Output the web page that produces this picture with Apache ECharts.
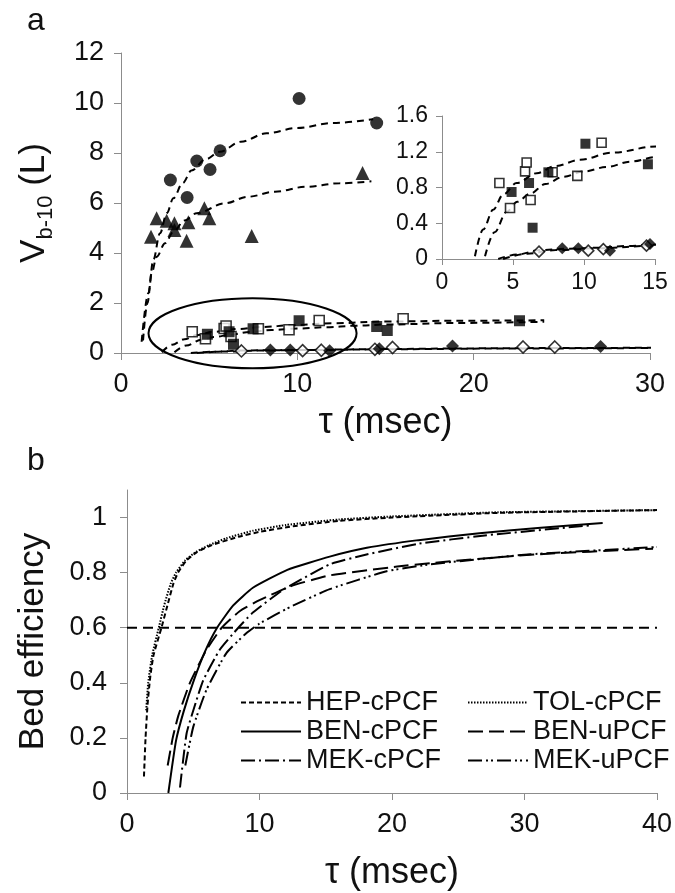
<!DOCTYPE html>
<html>
<head>
<meta charset="utf-8">
<script src="https://cdn.jsdelivr.net/npm/echarts@6/dist/echarts.min.js"></script>
<style>
  html, body { margin: 0; padding: 0; background: #fff; }
  #chart { width: 675px; height: 893px; }
</style>
</head>
<body>
<div id="chart"></div>
<script>
// ---------- Panel a: bed volume V(b-10) vs contact time ----------
const circles        = [[2.8,6.92],[3.75,6.22],[4.3,7.68],[5.05,7.34],[5.62,8.09],[10.1,10.18],[14.5,9.2]];
const triangles      = [[1.7,4.65],[2.02,5.39],[2.59,5.29],[3.03,5.19],[3.03,4.92],[3.72,4.49],[3.82,5.23],[4.73,5.79],[5.01,5.39],[7.41,4.68],[13.7,7.2]];
const openSquares    = [[4.04,0.85],[4.79,0.57],[5.85,0.98],[5.96,1.08],[6.24,0.66],[7.79,0.97],[9.53,0.93],[11.24,1.3],[16.0,1.37]];
const filledSquares  = [[4.9,0.75],[6.13,0.85],[6.38,0.35],[7.49,0.97],[10.1,1.29],[14.5,1.06],[15.1,0.9],[22.6,1.29]];
const filledDiamonds = [[8.47,0.12],[9.6,0.12],[11.83,0.093],[14.65,0.168],[18.8,0.28],[27.2,0.26]];
const openDiamonds   = [[6.83,0.082],[10.3,0.093],[11.36,0.11],[14.4,0.149],[15.4,0.22],[22.8,0.24],[24.6,0.24]];

// fitted curves (dashed)
const circleFit   = [[1.17,0.45],[1.55,2.39],[1.83,3.72],[2.21,4.79],[2.6,5.6],[2.97,6.19],[3.5,6.8],[4.0,7.3],[4.8,7.75],[5.6,8.05],[6.8,8.45],[8.26,8.79],[10,9.0],[12.0,9.2],[14.3,9.35]];
const triangleFit = [[1.25,0.5],[1.5,2.0],[1.74,3.2],[2.02,3.85],[2.5,4.39],[2.97,4.85],[3.6,5.3],[4.29,5.59],[5.9,5.99],[7.2,6.25],[8.73,6.45],[10.5,6.65],[12.4,6.79],[14.2,6.87]];
const squareFitUpper = [[2.32,0.03],[2.9,0.33],[3.6,0.55],[4.3,0.72],[5.26,0.85],[6.67,0.96],[8,1.04],[9.72,1.11],[12,1.19],[15.1,1.26],[19,1.29],[24,1.31]];
const squareFitLower = [[3.03,0.03],[3.7,0.3],[4.56,0.53],[5.3,0.64],[6.2,0.73],[7.3,0.84],[8.54,0.92],[10,0.98],[11.6,1.03],[13.3,1.09],[15.1,1.14],[19,1.2],[24,1.25]];
const diamondFitFilled = [[3.96,0.0],[5.3,0.05],[6.9,0.1],[9,0.115],[10.9,0.125],[13,0.145],[15,0.16],[20,0.185],[25,0.2],[30.3,0.21]];
const diamondFitOpen   = [[4.3,0.0],[6,0.06],[8,0.1],[11,0.12],[15,0.15],[22,0.18],[30,0.2]];

// highlighted low-volume region: centre x, centre y, half-width, half-height (axis units)
const highlightRegion = [7.46, 0.79, 5.9, 1.4];

const ticksInY = [0, 0.4, 0.8, 1.2, 1.6];

// ---------- Panel b: bed efficiency vs contact time ----------
const hepC = [[1.28,0.06],[1.4,0.2],[1.55,0.32],[1.75,0.42],[2.0,0.5],[2.6,0.6],[3.1,0.69],[3.5,0.76],[3.85,0.8],[4.5,0.845],[5.3,0.875],[6.4,0.9],[8.4,0.93],[10,0.948],[12.5,0.968],[16,0.988],[20,1.0],[28,1.017],[40,1.027]];
const tolC = [[1.45,0.3],[1.6,0.4],[1.9,0.5],[2.4,0.6],[2.8,0.68],[3.3,0.76],[3.7,0.8],[4.4,0.845],[5.2,0.875],[6.2,0.9],[7.5,0.925],[9.5,0.952],[12,0.973],[16,0.993],[20,1.004],[28,1.019],[40,1.027]];
const benC = [[3.12,0.0],[3.7,0.19],[4.3,0.3],[5.05,0.41],[5.9,0.515],[6.8,0.6],[8.0,0.68],[9.5,0.745],[12.1,0.81],[15.3,0.858],[18.1,0.89],[22,0.918],[26.6,0.943],[31,0.962],[35.9,0.98]];
const benU = [[3.07,0.1],[3.45,0.2],[3.87,0.28],[4.75,0.4],[6.0,0.52],[7.15,0.6],[8.5,0.66],[10.0,0.7],[12.3,0.75],[15.3,0.79],[20.4,0.822],[23,0.835],[30.4,0.865],[39.7,0.887]];
const mekC = [[4.0,0.02],[4.5,0.217],[5.2,0.33],[5.76,0.41],[7.0,0.52],[8.4,0.6],[9.5,0.655],[11.8,0.738],[15.3,0.83],[18,0.865],[22,0.905],[27,0.935],[35,0.972]];
const mekU = [[4.4,0.1],[5.0,0.24],[6.0,0.375],[7.5,0.508],[9.0,0.58],[10.0,0.615],[12.3,0.675],[15.3,0.74],[19.6,0.805],[22.9,0.83],[30,0.865],[40,0.893]];
const threshold = [[0,0.6],[40,0.6]];

const ticksB = [0, 0.2, 0.4, 0.6, 0.8, 1];

const FONT = "'Liberation Sans', Arial, sans-serif";
const AXIS_GRAY = '#8c8c8c';
const INK = '#111';

function valueAxis(o) {
  return Object.assign({
    type: 'value',
    axisLine: { show: true, lineStyle: { color: AXIS_GRAY, width: 1 } },
    axisTick: { show: true, inside: false, length: 7, lineStyle: { color: AXIS_GRAY } },
    splitLine: { show: false },
    axisLabel: { color: INK, fontFamily: FONT, fontSize: 27 }
  }, o);
}

function fitLine(data, xi, yi) {
  return {
    type: 'line', data, xAxisIndex: xi, yAxisIndex: yi,
    symbol: 'none', smooth: 0.35, smoothMonotone: 'x', silent: true,
    lineStyle: { color: '#000', width: 2, type: [7, 5] }, z: 2
  };
}

function markers(data, xi, yi, symbol, size, open) {
  return {
    type: 'scatter', data, xAxisIndex: xi, yAxisIndex: yi,
    symbol, symbolSize: size, silent: true, z: 4,
    itemStyle: open
      ? { color: '#fff', borderColor: '#000', borderWidth: 1.6 }
      : { color: '#000' }
  };
}

function curve(name, data, dash, width) {
  return {
    name, type: 'line', data, xAxisIndex: 3, yAxisIndex: 3,
    symbol: 'none', smooth: 0.15, silent: true,
    itemStyle: { color: '#000' },
    lineStyle: { color: '#000', width: width || 2, type: dash }
  };
}

const series = [
  // main panel a
  fitLine(circleFit, 0, 0),
  fitLine(triangleFit, 0, 0),
  fitLine(squareFitUpper, 0, 0),
  fitLine(squareFitLower, 0, 0),
  fitLine(diamondFitFilled, 0, 0),
  fitLine(diamondFitOpen, 0, 0),
  {
    type: 'custom', xAxisIndex: 0, yAxisIndex: 0, silent: true, clip: false, z: 3,
    data: [highlightRegion],
    renderItem: function (params, api) {
      const c = api.coord([api.value(0), api.value(1)]);
      const s = api.size([api.value(2), api.value(3)]);
      const rx = s[0], ry = s[1];
      const d = 'M' + (c[0] - rx) + ' ' + c[1] +
        ' A' + rx + ' ' + ry + ' 0 1 0 ' + (c[0] + rx) + ' ' + c[1] +
        ' A' + rx + ' ' + ry + ' 0 1 0 ' + (c[0] - rx) + ' ' + c[1] + ' Z';
      return { type: 'path', shape: { pathData: d }, style: { fill: 'none', stroke: '#000', lineWidth: 2 } };
    }
  },
  markers(circles, 0, 0, 'circle', 13),
  markers(triangles, 0, 0, 'triangle', 14),
  markers(openSquares, 0, 0, 'rect', 10, true),
  markers(filledSquares, 0, 0, 'rect', 11),
  markers(openDiamonds, 0, 0, 'diamond', 12, true),
  markers(filledDiamonds, 0, 0, 'diamond', 13),

  // inset of panel a
  fitLine(squareFitUpper, 1, 1),
  fitLine(squareFitLower, 1, 1),
  fitLine(diamondFitFilled, 1, 1),
  fitLine(diamondFitOpen, 1, 1),
  markers(openSquares, 1, 1, 'rect', 9, true),
  markers(filledSquares, 1, 1, 'rect', 10),
  markers(openDiamonds, 1, 1, 'diamond', 11, true),
  markers(filledDiamonds, 1, 1, 'diamond', 12),

  // panel b
  {
    type: 'line', data: threshold, xAxisIndex: 3, yAxisIndex: 3, symbol: 'none', silent: true,
    lineStyle: { color: '#000', width: 2, type: [10, 6] }
  },
  curve('HEP-cPCF', hepC, [5, 3]),
  curve('TOL-cPCF', tolC, [1.5, 1.5], 2),
  curve('BEN-cPCF', benC, 'solid'),
  curve('BEN-uPCF', benU, [15, 6]),
  curve('MEK-cPCF', mekC, [14, 4, 2, 4]),
  curve('MEK-uPCF', mekU, [14, 4, 2, 3, 2, 4])
];

const legendBase = {
  orient: 'vertical', itemWidth: 60, itemHeight: 18, itemGap: 2, padding: 0,
  selectedMode: false,
  itemStyle: { color: 'rgba(0,0,0,0)', borderColor: 'rgba(0,0,0,0)', borderWidth: 0 },
  textStyle: { color: INK, fontFamily: FONT, fontSize: 27 }
};

const option = {
  animation: false,
  backgroundColor: '#fff',
  textStyle: { fontFamily: FONT },
  grid: [
    { left: 121, top: 53, width: 529, height: 300, outerBoundsMode: 'none' },
    { left: 442, top: 116, width: 213, height: 143, outerBoundsMode: 'none' },
    { left: 0, top: 0, width: 1, height: 1, show: false },
    { left: 127, top: 490, width: 530, height: 303, outerBoundsMode: 'none' }
  ],
  xAxis: [
    valueAxis({
      gridIndex: 0, min: 0, max: 30, interval: 10,
      axisLabel: { color: INK, fontFamily: FONT, fontSize: 27, margin: 18 },
      name: 'τ (msec)', nameLocation: 'middle', nameGap: 52,
      nameTextStyle: { color: INK, fontFamily: FONT, fontSize: 36 }
    }),
    valueAxis({
      gridIndex: 1, min: 0, max: 15, interval: 5,
      axisTick: { show: true, length: 6, lineStyle: { color: AXIS_GRAY } },
      axisLabel: { color: INK, fontFamily: FONT, fontSize: 23, margin: 12 }
    }),
    { gridIndex: 2, type: 'value', show: false },
    valueAxis({
      gridIndex: 3, min: 0, max: 40, interval: 10,
      axisLabel: { color: INK, fontFamily: FONT, fontSize: 27, margin: 18 },
      name: 'τ (msec)', nameLocation: 'middle', nameGap: 62,
      nameTextStyle: { color: INK, fontFamily: FONT, fontSize: 36 }
    })
  ],
  yAxis: [
    valueAxis({
      gridIndex: 0, min: 0, max: 12, interval: 2,
      axisLabel: { color: INK, fontFamily: FONT, fontSize: 27, margin: 17 },
      name: '{v|V}{s|b-10}{v| (L)}', nameLocation: 'middle', nameGap: 64,
      nameTextStyle: {
        color: INK, fontFamily: FONT,
        rich: {
          v: { fontSize: 35, fontFamily: FONT, color: INK, verticalAlign: 'bottom', padding: [0, 0, 5, 0] },
          s: { fontSize: 22, fontFamily: FONT, color: INK, verticalAlign: 'bottom' }
        }
      }
    }),
    valueAxis({
      gridIndex: 1, min: 0, max: 1.6, interval: 0.4,
      axisTick: { show: true, length: 6, lineStyle: { color: AXIS_GRAY } },
      axisLabel: { color: INK, fontFamily: FONT, fontSize: 23, margin: 14,
        customValues: ticksInY, formatter: v => String(Math.round(v * 10) / 10) }
    }),
    { gridIndex: 2, type: 'value', show: false },
    valueAxis({
      gridIndex: 3, min: 0, max: 1.1,
      axisTick: { show: true, length: 7, customValues: ticksB, lineStyle: { color: AXIS_GRAY } },
      axisLabel: { color: INK, fontFamily: FONT, fontSize: 27, margin: 20,
        customValues: ticksB, formatter: v => String(Math.round(v * 10) / 10) },
      name: 'Bed efficiency', nameLocation: 'middle', nameGap: 76,
      nameTextStyle: { color: INK, fontFamily: FONT, fontSize: 35 }
    })
  ],
  legend: [
    Object.assign({}, legendBase, { left: 240, top: 689, data: ['HEP-cPCF', 'BEN-cPCF', 'MEK-cPCF'] }),
    Object.assign({}, legendBase, { left: 467, top: 689, data: ['TOL-cPCF', 'BEN-uPCF', 'MEK-uPCF'] })
  ],
  graphic: [
    { type: 'text', left: 27, top: 5, style: { text: 'a', fontFamily: FONT, fontSize: 32, fill: INK } },
    { type: 'text', left: 27, top: 445, style: { text: 'b', fontFamily: FONT, fontSize: 32, fill: INK } }
  ],
  series
};

const chart = echarts.init(document.getElementById('chart'), null, { renderer: 'canvas' });
chart.setOption(option);
</script>
</body>
</html>
